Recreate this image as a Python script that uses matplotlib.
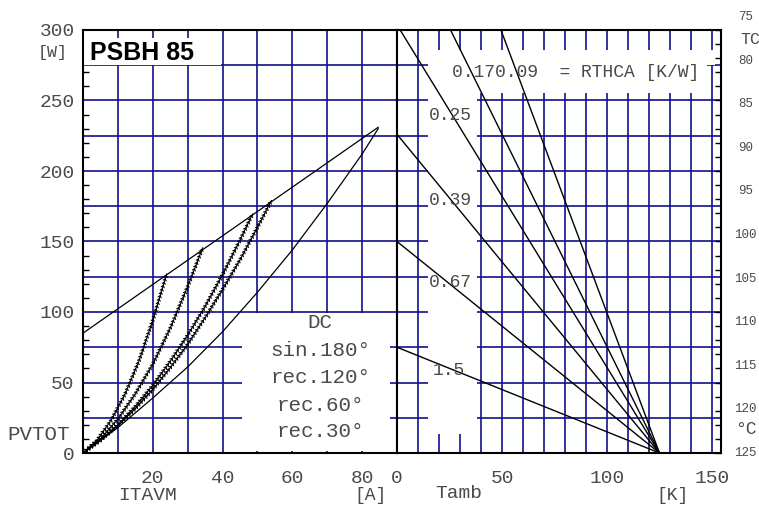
import matplotlib
matplotlib.use("Agg")
import matplotlib.pyplot as plt
import matplotlib.patheffects as pe
from matplotlib.patches import Rectangle

# left panel: total power loss PVTOT [W] over average on-state current ITAVM [A]
itavm_dc = [0, 10, 20, 30, 40, 50, 60, 70, 80, 84.6]
pv_dc = [0, 18, 39, 61, 86, 114, 144, 177, 212, 230]
itavm_sin180 = [0, 5, 10, 15, 20, 25, 30, 35, 40, 45, 50, 54]
pv_sin180 = [0, 9, 19.5, 31.5, 45, 60.5, 77, 96, 116, 137, 160, 179]
itavm_rec120 = [0, 5, 10, 15, 20, 25, 30, 35, 40, 45, 48.6]
pv_rec120 = [0, 9, 20, 33, 48, 65, 83.5, 104, 126.5, 151, 169.5]
itavm_rec60 = [0, 5, 10, 15, 20, 25, 30, 34.3]
pv_rec60 = [0, 10, 24, 42, 63, 88.5, 118, 145.5]
itavm_rec30 = [0, 4, 8, 12, 16, 20, 24]
pv_rec30 = [0, 9, 23, 41.5, 65, 94, 127]
itavm_limit = [0, 84.6]
pv_limit = [85, 231]
curve_names = ["DC", "sin.180°", "rec.120°", "rec.60°", "rec.30°"]

# right panel: lines of constant RTHCA, from (tamb_start, pv_start) down to (125 K, 0 W)
rthca = ["0.09", "0.17", "0.25", "0.39", "0.67", "1.5"]
tamb_start = [49.5, 25.5, 1.5, 0, 0, 0]
pv_start = [300, 300, 300, 226, 150, 75]
tamb_end = 125
tc_values = [75, 80, 85, 90, 95, 100, 105, 110, 115, 120, 125]
RTHJC = 0.1617  # K/W, links the right TC scale to the W scale

MONO = "Liberation Mono"
GRID = "#10108c"
TXT = "#4a4a4a"
plt.rcParams["font.family"] = [MONO, "DejaVu Sans"]

fig = plt.figure(figsize=(7.59, 5.05), dpi=100)
ax1 = fig.add_axes([83 / 759, 52 / 505, 314 / 759, 423 / 505])
ax2 = fig.add_axes([397 / 759, 52 / 505, 324 / 759, 423 / 505])

ax1.set_xlim(0, 90)
ax2.set_xlim(0, 154.3)
for ax in (ax1, ax2):
    ax.set_ylim(0, 300)
    for s in ax.spines.values():
        s.set_linewidth(1.5)
        s.set_color("black")
        s.set_zorder(5)
    for y in range(25, 300, 25):
        ax.axhline(y, color=GRID, lw=1.2, zorder=1)

for x in range(10, 90, 10):
    ax1.axvline(x, color=GRID, lw=1.2, zorder=1)
for x in range(10, 151, 10):
    ax2.axvline(x, color=GRID, lw=1.2, zorder=1)


def white_box(ax, x0, x1, y0, y1):
    ax.add_patch(Rectangle((x0, y0), x1 - x0, y1 - y0, facecolor="white",
                           edgecolor="none", zorder=2))


white_box(ax1, 0.3, 39.6, 275.4, 294.3)
white_box(ax1, 45.6, 88.1, 1.4, 99.4)
white_box(ax2, 14.8, 38.1, 13.5, 285.8)
white_box(ax2, 38.1, 147.6, 255.3, 285.8)
white_box(ax2, 38.1, 151.4, 275.4, 285.8)

# curves
ticked = [pe.TickedStroke(angle=135, spacing=2.5, length=0.6),
          pe.withTickedStroke(angle=-135, spacing=2.5, length=0.6)]
ax1.plot(itavm_dc, pv_dc, color="black", lw=0.9, zorder=3)
for xs, ys in [(itavm_sin180, pv_sin180), (itavm_rec120, pv_rec120),
               (itavm_rec60, pv_rec60), (itavm_rec30, pv_rec30)]:
    ax1.plot(xs, ys, color="black", lw=0.8, zorder=3, path_effects=ticked)
ax1.plot(itavm_limit, pv_limit, color="black", lw=0.9, zorder=3)

for t0, p0 in zip(tamb_start, pv_start):
    ax2.plot([t0, tamb_end], [p0, 0], color="black", lw=1.0, zorder=3,
             clip_on=False)

# legend-like text in the left box
for name, y in zip(curve_names, [92.9, 73, 53.2, 34, 14.9]):
    ax1.text(68, y, name, ha="center", va="center", fontsize=15, color=TXT, zorder=4)

ax1.text(2.0, 283.5, "PSBH 85", fontfamily="Liberation Sans", fontweight="bold",
         fontsize=18, ha="left", va="center", color="black", zorder=4)

# RTHCA labels
ax2.text(26.2, 270.2, rthca[1] + rthca[0] + "  = RTHCA [K/W]", ha="left", va="center",
         fontsize=13, color=TXT, zorder=4)
for name, x, y in zip(rthca[2:], [25.2, 25.2, 25.2, 24.8], [239.7, 179.4, 120.6, 58.2]):
    ax2.text(x, y, name, ha="center", va="center", fontsize=13, color=TXT, zorder=4)

# ticks
ax1.set_xticks([20, 40, 60, 80])
ax1.set_yticks(range(0, 301, 50))
ax1.set_yticks(range(0, 301, 10), minor=True)
ax1.tick_params(axis="x", length=0, pad=12, labelsize=14, labelcolor=TXT)
ax1.tick_params(axis="y", which="major", length=0, pad=6, labelsize=14, labelcolor=TXT)
ax1.tick_params(axis="y", which="minor", direction="in", length=4, width=1)

ax2.set_xticks([0, 50, 100, 150])
ax2.tick_params(axis="x", length=0, pad=12, labelsize=14, labelcolor=TXT)
ax2.set_yticks([])
ax2.set_yticks(range(0, 301, 10), minor=True)
ax2.tick_params(axis="y", which="minor", direction="in", length=4, width=1,
                left=False, right=True, labelleft=False)

# TC scale on the right
for tc in tc_values:
    ax2.text(1.0756, (125 - tc) / RTHJC, str(tc), transform=ax2.get_yaxis_transform(),
             ha="center", va="center", fontsize=9, color=TXT, clip_on=False)

# axis titles
fig.text(53 / 759, 1 - 52 / 505, "[W]", ha="center", va="center", fontsize=12, color=TXT)
fig.text(39 / 759, 1 - 435 / 505, "PVTOT", ha="center", va="center", fontsize=15, color=TXT)
fig.text(148 / 759, 1 - 495 / 505, "ITAVM", ha="center", va="center", fontsize=14, color=TXT)
fig.text(371 / 759, 1 - 496 / 505, "[A]", ha="center", va="center", fontsize=13, color=TXT)
fig.text(459 / 759, 1 - 494 / 505, "Tamb", ha="center", va="center", fontsize=14, color=TXT)
fig.text(672 / 759, 1 - 495 / 505, "[K]", ha="center", va="center", fontsize=13, color=TXT)
fig.text(750 / 759, 1 - 40 / 505, "TC", ha="center", va="center", fontsize=12, color=TXT)
fig.text(746 / 759, 1 - 430 / 505, "°C", ha="center", va="center", fontsize=13, color=TXT)

fig.savefig("out.png", dpi=100)
